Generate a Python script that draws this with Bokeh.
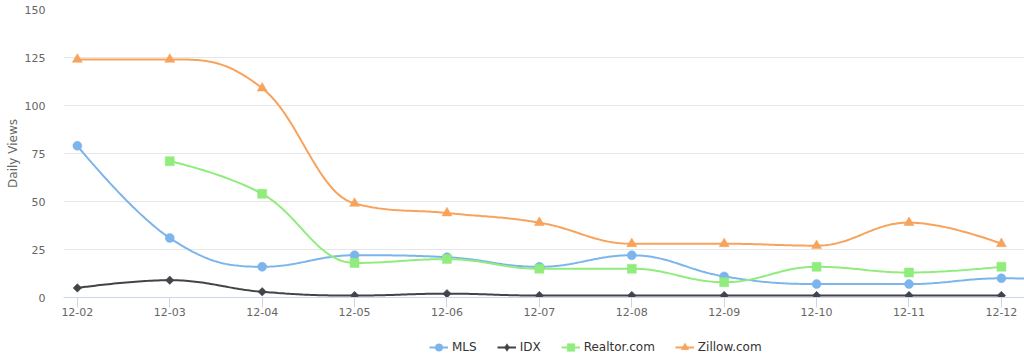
import numpy as np
from bokeh.plotting import figure
from bokeh.layouts import column
from bokeh.models import Range1d, FixedTicker, Legend, LegendItem
from bokeh.embed import file_html
from bokeh.resources import INLINE

dates = ["12-02", "12-03", "12-04", "12-05", "12-06", "12-07",
         "12-08", "12-09", "12-10", "12-11", "12-12", "12-13"]
mls = [79, 31, 16, 22, 21, 16, 22, 11, 7, 7, 10, 9]
idx = [5, 9, 3, 1, 2, 1, 1, 1, 1, 1, 1, None]
realtor = [None, 71, 54, 18, 20, 15, 15, 8, 16, 13, 16, None]
zillow = [124, 124, 109, 49, 44, 39, 28, 28, 27, 39, 28, None]
y_ticks = [0, 25, 50, 75, 100, 125, 150]

FONT = "DejaVu Sans"


def spline(values, n=40):
    pts = [(float(i), float(v)) for i, v in enumerate(values) if v is not None]
    N = len(pts)
    lc = [None] * N
    rc = [None] * N
    s, d = 1.5, 2.5
    for i, (px, py) in enumerate(pts):
        if 0 < i < N - 1:
            lx, ly = pts[i - 1]
            nx, ny = pts[i + 1]
            lcx = (s * px + lx) / d
            lcy = (s * py + ly) / d
            rcx = (s * px + nx) / d
            rcy = (s * py + ny) / d
            if rcx != lcx:
                corr = ((rcy - lcy) * (rcx - px)) / (rcx - lcx) + py - rcy
                lcy += corr
                rcy += corr
            if lcy > ly and lcy > py:
                lcy = max(ly, py)
                rcy = 2 * py - lcy
            elif lcy < ly and lcy < py:
                lcy = min(ly, py)
                rcy = 2 * py - lcy
            if rcy > ny and rcy > py:
                rcy = max(ny, py)
                lcy = 2 * py - rcy
            elif rcy < ny and rcy < py:
                rcy = min(ny, py)
                lcy = 2 * py - rcy
            lc[i] = (lcx, lcy)
            rc[i] = (rcx, rcy)
        else:
            lc[i] = rc[i] = (px, py)
    xs, ys = [pts[0][0]], [pts[0][1]]
    t = np.linspace(0, 1, n)[1:]
    for i in range(1, N):
        p0 = np.array(pts[i - 1]); p1 = np.array(rc[i - 1])
        p2 = np.array(lc[i]); p3 = np.array(pts[i])
        for tt in t:
            b = ((1 - tt) ** 3) * p0 + 3 * ((1 - tt) ** 2) * tt * p1 + 3 * (1 - tt) * tt * tt * p2 + tt ** 3 * p3
            xs.append(b[0]); ys.append(b[1])
    return xs, ys


p = figure(width=1024, height=323, output_backend="svg",
           toolbar_location=None, x_range=Range1d(-0.15, 10.25),
           y_range=Range1d(0, 150), min_border_left=63, min_border_right=0,
           min_border_top=9, min_border_bottom=26)
p.outline_line_color = None
p.background_fill_color = "white"

p.xgrid.visible = False
p.ygrid.ticker = FixedTicker(ticks=y_ticks)
p.ygrid.grid_line_color = "#e6e6e6"

p.yaxis.ticker = FixedTicker(ticks=y_ticks)
p.yaxis.axis_line_color = None
p.yaxis.major_tick_line_color = None
p.yaxis.major_tick_out = 0
p.yaxis.major_tick_in = 0
p.yaxis.minor_tick_line_color = None
p.yaxis.minor_tick_out = 0
p.yaxis.major_label_standoff = 18
p.yaxis.major_label_text_font = FONT
p.yaxis.major_label_text_font_size = "11px"
p.yaxis.major_label_text_color = "#666666"
p.yaxis.axis_label = "Daily Views"
p.yaxis.axis_label_text_font = FONT
p.yaxis.axis_label_text_font_size = "12px"
p.yaxis.axis_label_text_font_style = "normal"
p.yaxis.axis_label_text_color = "#666666"
p.yaxis.axis_label_standoff = 2

p.xaxis.ticker = FixedTicker(ticks=list(range(len(dates))))
p.xaxis.major_label_overrides = {i: d for i, d in enumerate(dates)}
p.xaxis.axis_line_color = "#ccd6eb"
p.xaxis.major_tick_line_color = "#ccd6eb"
p.xaxis.major_tick_out = 10
p.xaxis.major_tick_in = 0
p.xaxis.minor_tick_line_color = None
p.xaxis.minor_tick_out = 0
p.xaxis.major_label_standoff = 0
p.xaxis.major_label_text_font = FONT
p.xaxis.major_label_text_font_size = "11px"
p.xaxis.major_label_text_color = "#666666"

# Legend-only strip below the chart (same series, drawn out of view)
pl = figure(width=1024, height=36, output_backend="svg", toolbar_location=None,
            x_range=Range1d(0, 1), y_range=Range1d(1000, 1001),
            x_axis_location=None, y_axis_location=None,
            min_border_left=0, min_border_right=0, min_border_top=0,
            min_border_bottom=0)
pl.outline_line_color = None
pl.grid.visible = False

# name, values, color, plot marker, size, angle, legend marker, legend size
series = [
    ("MLS", mls, "#7cb5ec", "circle", 9, 0, "circle", 9),
    ("IDX", idx, "#434348", "square", 6, np.pi / 4, "diamond", 11),
    ("Realtor.com", realtor, "#90ed7d", "square", 9, 0, "square", 9),
    ("Zillow.com", zillow, "#f7a35c", "triangle", 10, 0, "triangle", 10),
]

items = []
for name, vals, color, marker, size, ang, lmarker, lsize in series:
    xs, ys = spline(vals)
    px = [i for i, v in enumerate(vals) if v is not None]
    py = [v for v in vals if v is not None]
    p.line(xs, ys, line_color=color, line_width=2)
    p.scatter(px, py, marker=marker, size=size, angle=ang,
              fill_color=color, line_color=color, line_width=0.5)
    lr = pl.line(xs, ys, line_color=color, line_width=2)
    sr = pl.scatter(px, py, marker=lmarker, size=lsize,
                    fill_color=color, line_color=color, line_width=0.5)
    items.append(LegendItem(label=name, renderers=[lr, sr]))

legend = Legend(items=items, orientation="horizontal", location=(366, 2),
                padding=0, margin=0, spacing=20, label_standoff=4,
                glyph_width=19, glyph_height=20,
                border_line_color=None, background_fill_alpha=0,
                label_text_font=FONT, label_text_font_size="12px",
                label_text_color="#333333")
pl.add_layout(legend, "center")

layout = column(p, pl, spacing=0)
open("out.html", "w").write(file_html(layout, INLINE))
